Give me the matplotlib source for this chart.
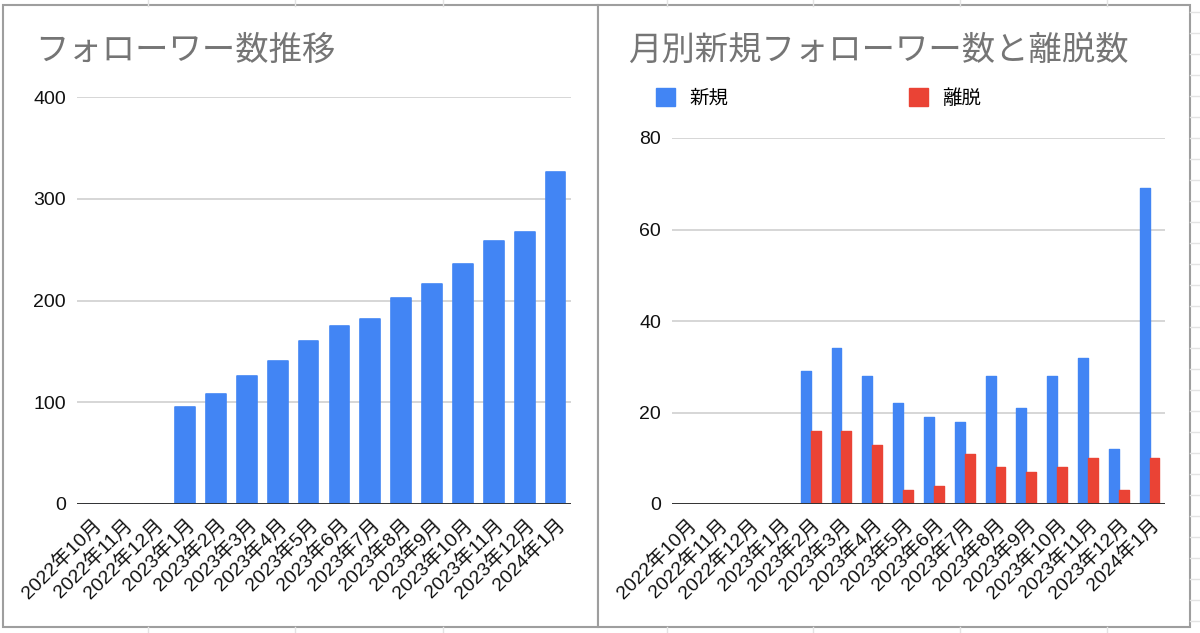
import matplotlib
matplotlib.use("Agg")
import matplotlib.pyplot as plt
from matplotlib.lines import Line2D
from matplotlib.patches import Rectangle, Patch
import numpy as np

plt.rcParams["font.family"] = ["Liberation Sans", "Noto Sans CJK JP", "DejaVu Sans"]

# ── data ────────────────────────────────────────────────────────────────
months = ["2022年10月", "2022年11月", "2022年12月", "2023年1月", "2023年2月",
          "2023年3月", "2023年4月", "2023年5月", "2023年6月", "2023年7月",
          "2023年8月", "2023年9月", "2023年10月", "2023年11月", "2023年12月",
          "2024年1月"]
followers = [0, 0, 0, 95, 108, 126, 141, 160, 175, 182, 202, 216, 236, 258, 267, 326]
new_followers = [0, 0, 0, 0, 29, 34, 28, 22, 19, 18, 28, 21, 28, 32, 12, 69]
churned = [0, 0, 0, 0, 16, 16, 13, 3, 4, 11, 8, 7, 8, 10, 3, 10]

left_ticks = [0, 100, 200, 300, 400]
right_ticks = [0, 20, 40, 60, 80]

BLUE = "#4285F4"
RED = "#EA4335"
TITLE_COL = "#757575"
GRID_COL = "#cccccc"
AXIS_COL = "#333333"
BORDER = "#9e9e9e"
SHEET = "#e3e3e3"
LABEL_COL = "#111111"

W, H = 1200, 633


def fx(px):
    return px / W


def fy(py):
    return 1 - py / H


def style_axis(ax, ticks):
    ax.set_ylim(ticks[0], ticks[-1])
    ax.set_yticks(ticks)
    ax.set_xlim(-0.5, len(months) - 0.5)
    ax.set_xticks(np.arange(len(months)))
    ax.set_xticklabels(months, rotation=45, ha="right", rotation_mode="anchor",
                       fontsize=14, color=LABEL_COL)
    ax.tick_params(axis="both", length=0, labelsize=14, labelcolor=LABEL_COL)
    ax.tick_params(axis="x", pad=8)
    ax.tick_params(axis="y", pad=8)
    for s in ax.spines.values():
        s.set_visible(False)
    ax.grid(axis="y", color=GRID_COL, lw=1.1)
    ax.set_axisbelow(True)
    ax.axhline(0, color=AXIS_COL, lw=1.4, zorder=3)


fig = plt.figure(figsize=(12, 6.33), dpi=100)
fig.patch.set_facecolor("white")

# spreadsheet lines behind the chart panels
for x in [148, 295, 443, 667, 813, 960, 1107]:
    fig.add_artist(Line2D([fx(x), fx(x)], [fy(0), fy(6)], color=SHEET, lw=1))
    fig.add_artist(Line2D([fx(x), fx(x)], [fy(627), fy(633)], color=SHEET, lw=1))
for y in range(12, 633, 21):
    fig.add_artist(Line2D([fx(1190), fx(1200)], [fy(y), fy(y)], color=SHEET, lw=1))

# chart panels
for x0, x1 in [(3, 598), (598, 1190)]:
    fig.add_artist(Rectangle((fx(x0), fy(627)), fx(x1 - x0), (627 - 5) / H,
                             transform=fig.transFigure, facecolor="white",
                             edgecolor=BORDER, lw=1.5, zorder=0))

x = np.arange(len(months))

# ── left: total followers ───────────────────────────────────────────────
ax1 = fig.add_axes([fx(77), fy(504), fx(571 - 77), (504 - 97) / H])
ax1.patch.set_alpha(0)
style_axis(ax1, left_ticks)
ax1.bar(x, followers, width=0.64, color=BLUE, edgecolor=BLUE, lw=1.2,
        joinstyle="round", zorder=2)
fig.text(fx(35), fy(50), "フォローワー数推移", fontsize=24, color=TITLE_COL,
         family=["Noto Sans CJK JP"], va="center", ha="left")

# ── right: monthly new / churned ────────────────────────────────────────
ax2 = fig.add_axes([fx(672), fy(504), fx(1165 - 672), (504 - 138) / H])
ax2.patch.set_alpha(0)
style_axis(ax2, right_ticks)
bw = 0.32
ax2.bar(x - bw / 2, new_followers, width=bw, color=BLUE, edgecolor=BLUE, lw=1.0,
        joinstyle="round", zorder=2)
ax2.bar(x + bw / 2, churned, width=bw, color=RED, edgecolor=RED, lw=1.0,
        joinstyle="round", zorder=2)
fig.text(fx(628), fy(50), "月別新規フォローワー数と離脱数", fontsize=24,
         color=TITLE_COL, family=["Noto Sans CJK JP"], va="center", ha="left")

handles = [Patch(facecolor=BLUE, edgecolor=BLUE), Patch(facecolor=RED, edgecolor=RED)]
fig.legend(handles, ["新規", "離脱"], loc="center left",
           bbox_to_anchor=(fx(656), fy(98)), ncol=2, frameon=False,
           prop={"family": ["Noto Sans CJK JP"], "size": 14},
           handlelength=1.0, handleheight=1.0, handletextpad=0.7,
           columnspacing=9.3, borderpad=0, borderaxespad=0)

fig.savefig("out.png", dpi=100, facecolor="white")
